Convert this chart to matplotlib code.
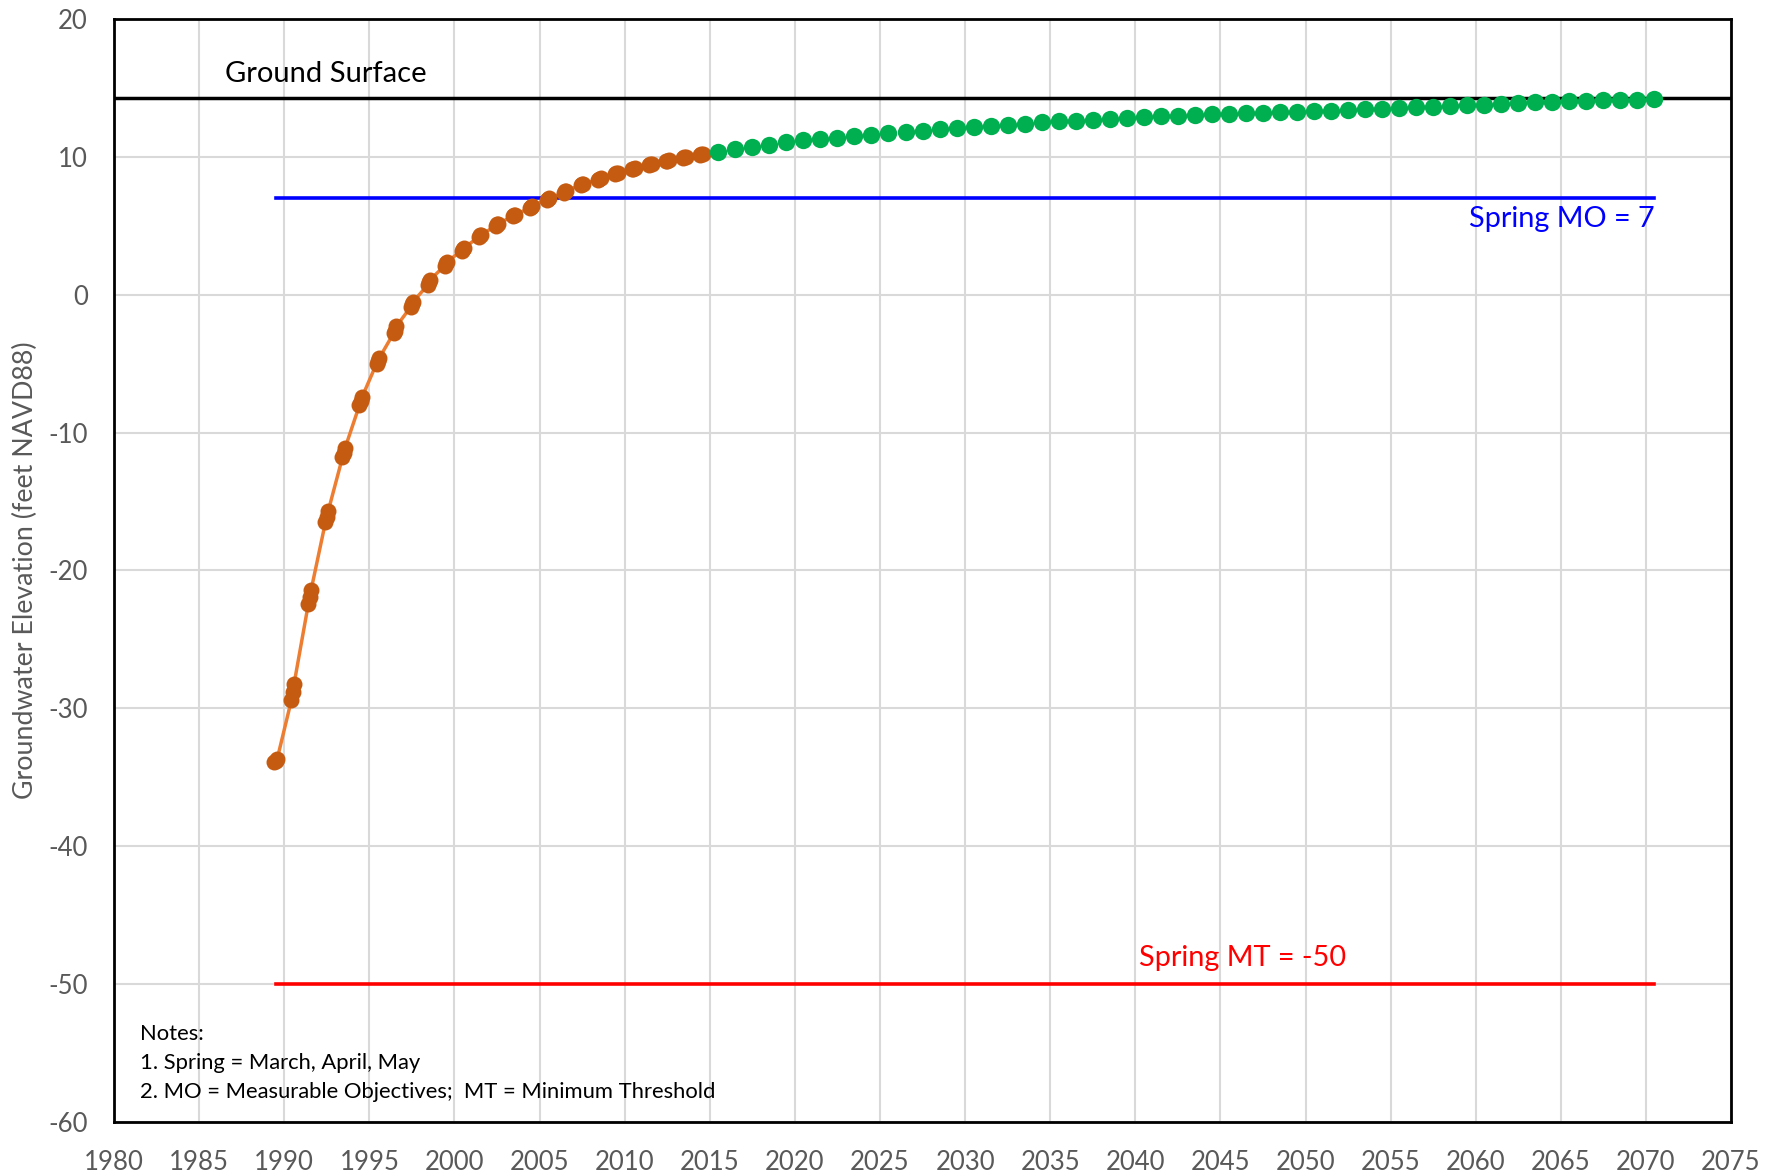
import numpy as np
import matplotlib.pyplot as plt

plt.rcParams['font.family'] = ['Lato', 'DejaVu Sans']
plt.rcParams['axes.unicode_minus'] = False

# spring measurements (March, April, May) per year, historical
hist_years = list(range(1989, 2015))
hist_vals = [
    [-33.9, -33.8, -33.7],
    [-29.4, -28.8, -28.2],
    [-22.4, -21.9, -21.4],
    [-16.5, -16.1, -15.7],
    [-11.8, -11.5, -11.1],
    [-8.0, -7.7, -7.4],
    [-5.0, -4.8, -4.6],
    [-2.8, -2.6, -2.3],
    [-0.9, -0.7, -0.5],
    [0.7, 0.9, 1.1],
    [2.1, 2.3, 2.4],
    [3.2, 3.3, 3.4],
    [4.2, 4.3, 4.35],
    [5.0, 5.1, 5.15],
    [5.7, 5.75, 5.8],
    [6.3, 6.4, 6.45],
    [6.9, 6.95, 7.0],
    [7.4, 7.5, 7.55],
    [7.95, 8.0, 8.05],
    [8.35, 8.4, 8.45],
    [8.75, 8.8, 8.85],
    [9.1, 9.15, 9.2],
    [9.4, 9.45, 9.5],
    [9.7, 9.72, 9.75],
    [9.95, 9.97, 10.0],
    [10.15, 10.2, 10.22],
]
month_offsets = [0.42, 0.5, 0.58]

# projected spring values, one per year
proj_years = list(range(2015, 2071))
proj_vals = [
    10.35, 10.55, 10.75, 10.9, 11.05, 11.2, 11.3, 11.4, 11.5, 11.6,
    11.7, 11.8, 11.9, 12.0, 12.1, 12.2, 12.27, 12.35, 12.42, 12.5,
    12.57, 12.64, 12.7, 12.77, 12.83, 12.9, 12.95, 13.0, 13.05, 13.1,
    13.13, 13.16, 13.2, 13.23, 13.26, 13.3, 13.35, 13.4, 13.45, 13.5,
    13.55, 13.6, 13.65, 13.7, 13.75, 13.8, 13.85, 13.9, 13.95, 14.0,
    14.02, 14.05, 14.1, 14.13, 14.16, 14.2,
]

ground_surface = 14.3
spring_mo = 7
spring_mt = -50
line_start, line_end = 1989.5, 2070.5

hx = [y + o for y in hist_years for o in month_offsets]
hy = [v for row in hist_vals for v in row]
px = [y + 0.5 for y in proj_years]

fig = plt.figure(figsize=(17.82, 11.76), dpi=100)
ax = fig.add_axes([0.064, 0.046, 0.9074, 0.9378])

ax.axhline(ground_surface, color='black', lw=2.5, zorder=3)
ax.plot([line_start, line_end], [spring_mo, spring_mo], color='#0000FF', lw=2.6, zorder=3)
ax.plot([line_start, line_end], [spring_mt, spring_mt], color='#FF0000', lw=2.6, zorder=3)

ax.plot(hx, hy, color='#ED7D31', lw=2.5, zorder=4)
ax.plot(hx, hy, 'o', color='#C55A11', ms=11.5, mec='none', zorder=5)
ax.plot(px, proj_vals, 'o', color='#00B050', ms=12.5, mec='none', zorder=5)

ax.text(1986.5, 16.0, 'Ground Surface', fontsize=21, va='center', ha='left', color='black')
ax.text(2070.5, 5.5, 'Spring MO = 7', fontsize=20.8, va='center', ha='right', color='#0000FF')
ax.text(2046.3, -48.1, 'Spring MT = -50', fontsize=20.8, va='center', ha='center', color='#FF0000')

notes = ['Notes:', '1. Spring = March, April, May',
         '2. MO = Measurable Objectives;  MT = Minimum Threshold']
for i, line in enumerate(notes):
    ax.text(1981.5, -53.6 - 2.1 * i, line, fontsize=15.8, va='center', ha='left')

ax.set_xlim(1980, 2075)
ax.set_ylim(-60, 20)
ax.set_xticks(np.arange(1980, 2076, 5))
ax.set_yticks(np.arange(-60, 21, 10))
ax.grid(True, color='#D9D9D9', lw=1.5)
ax.set_axisbelow(True)
ax.tick_params(length=0, labelsize=18.5, labelcolor='#595959')
ax.tick_params(axis='y', pad=19)
ax.tick_params(axis='x', pad=20)
for s in ax.spines.values():
    s.set_color('black')
    s.set_linewidth(2)

ax.set_ylabel('Groundwater Elevation (feet NAVD88)', fontsize=19.3, color='#595959')
ax.yaxis.set_label_coords(-0.047, 0.5)

fig.savefig('out.png', dpi=100)
